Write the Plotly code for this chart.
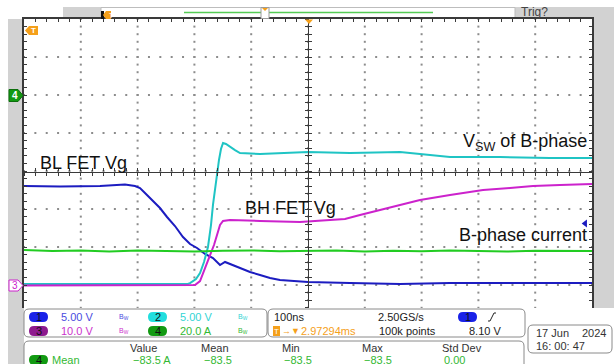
import numpy as np
import plotly.graph_objects as go

# ---------------- data ----------------
# time in ns (100 ns/div, trigger at centre)
T_CH1 = [-500, -436.6, -366.2, -322.2, -304.6, -295.8, -287.0, -278.2, -260.6, -248.2,
         -234.2, -220.1, -207.7, -195.4, -181.3, -167.3, -154.9, -146.1, -137.3, -119.7,
         -102.1, -84.5, -66.9, -49.3, -31.7, 0, 73.9, 162, 250, 338, 426, 500]
V_CH1 = [13.03, 12.96, 13.03, 13.22, 13.03, 12.76, 12.11, 11.45, 10.13, 8.95,
         7.76, 6.32, 5.39, 4.87, 4.08, 3.55, 2.63, 3.03, 2.76, 2.24,
         1.71, 1.32, 0.92, 0.66, 0.53, 0.39, 0.26, 0.13, 0.26, 0.26, 0.26, 0.26]

T_CH2 = [-500, -400, -300, -211.3, -207.7, -197.2, -190.1, -183.1, -176.1, -170.8,
         -167.3, -162.0, -156.7, -153.2, -149.6, -144.4, -137.3, -128.5, -119.7, -84.5,
         0, 73.9, 162, 214.8, 250, 338, 426, 500]
V_CH2 = [0.13, 0.13, 0.13, 0.13, 0.26, 0.79, 1.58, 3.03, 5.0, 7.89,
         10.53, 13.82, 16.45, 17.89, 18.68, 18.55, 18.16, 17.76, 17.37, 17.24,
         17.5, 17.37, 17.5, 17.1, 16.84, 16.84, 16.71, 16.71]

T_CH3 = [-500, -400, -300, -198.9, -190.1, -181.3, -172.5, -165.5, -160.2, -154.9,
         -149.6, -137.3, -84.5, -14.1, 38.7, 65.1, 91.5, 126.8, 162.0, 197.2,
         250, 308.1, 355.6, 396.1, 443.7, 500]
V_CH3 = [-0.13, -0.13, -0.13, 0, 1.05, 4.47, 7.63, 10.53, 13.16, 15.79,
         16.84, 17.11, 16.84, 16.58, 17.11, 17.37, 18.42, 19.74, 21.05, 22.37,
         23.68, 25.0, 25.53, 26.05, 26.32, 26.58]

T_CH4 = [-500, -450, -400, -350, -300, -250, -200, -150, -100, -50, 0,
         50, 100, 150, 200, 250, 300, 350, 400, 450, 500]
I_CH4 = [-81.6, -82.1, -81.8, -82.3, -81.9, -82.1, -82.4, -82.0, -81.8, -82.2, -82.1,
         -81.9, -82.3, -82.0, -82.2, -81.9, -82.1, -82.4, -82.0, -82.2, -82.1]

TRIG_LEVEL = 8.10
CH_SCALE = [5, 5, 10, 20]          # units per division
CH_GROUND_DIV = [-3, -3, -3, 2]    # ground marker position in divisions
CH_LABELS = ["5.00 V", "5.00 V", "10.0 V", "20.0 A"]
TIME_RANGE = [-500, 500]
TIME_DIV = 100
DIV_RANGE = [-3.605, 4.0]

LABELS = ["BL FET Vg", "BH FET Vg", "V<sub>SW</sub> of B-phase", "B-phase current"]
MEAS_HEAD = ["Value", "Mean", "Min", "Max", "Std Dev"]
MEAS_VALS = ["\u221283.5 A", "\u221283.5", "\u221283.5", "\u221283.5", "0.00"]

# ---------------- styling ----------------
C1, C2, C3, C4 = "#1c1cc0", "#1fc4c4", "#cc22cc", "#22cc22"
P1, P2, P3, P4 = "#1a22e8", "#22dede", "#8e1a8e", "#129a12"
T1, T2, T3, T4 = "#4b4be0", "#33d4d4", "#cc33cc", "#33b833"
ORANGE = "#f5a01a"
FRAME = "#d2d2d2"
LINE = "#3a3a3a"
GRID = "#8c8c8c"
FONT = "Liberation Sans, Arial, sans-serif"

W, H = 614, 364
L, R, TOP, BOT = 24, 592, 19, 308


def px(x):
    return (x - L) / (R - L)


def py(y):
    return (BOT - y) / (BOT - TOP)


def ch_range(ch):
    return [(d - CH_GROUND_DIV[ch]) * CH_SCALE[ch] for d in DIV_RANGE]


def rrect(x0, y0, x1, y1, r):
    return (f"M {px(x0 + r)},{py(y0)} L {px(x1 - r)},{py(y0)} "
            f"Q {px(x1)},{py(y0)} {px(x1)},{py(y0 + r)} L {px(x1)},{py(y1 - r)} "
            f"Q {px(x1)},{py(y1)} {px(x1 - r)},{py(y1)} L {px(x0 + r)},{py(y1)} "
            f"Q {px(x0)},{py(y1)} {px(x0)},{py(y1 - r)} L {px(x0)},{py(y0 + r)} "
            f"Q {px(x0)},{py(y0)} {px(x0 + r)},{py(y0)} Z")


def poly(points):
    return "M " + " L ".join(f"{px(a)},{py(b)}" for a, b in points) + " Z"


shapes = []
annotations = []


def rect(x0, y0, x1, y1, fill, line=None, layer="above", lw=1):
    shapes.append(dict(type="rect", xref="paper", yref="paper",
                       x0=px(x0), x1=px(x1), y0=py(y1), y1=py(y0),
                       fillcolor=fill, line=dict(color=line or fill, width=lw if line else 0),
                       layer=layer))


def path(p, fill, line=None, layer="above", lw=1):
    shapes.append(dict(type="path", xref="paper", yref="paper", path=p,
                       fillcolor=fill, line=dict(color=line or fill, width=lw if line else 0),
                       layer=layer))


def text(x, y, s, color="#222", size=11, xanchor="left"):
    annotations.append(dict(xref="paper", yref="paper", x=px(x), y=py(y), text=s,
                            showarrow=False, xanchor=xanchor, yanchor="middle",
                            font=dict(family=FONT, size=size, color=color),
                            borderpad=0))


# ---- frame ----
rect(63, 7, W, TOP, FRAME, layer="below")
rect(8, TOP, L, H, FRAME, layer="below")
rect(R, 7, W, BOT, FRAME, layer="below")
# top record bar
rect(101, 7.5, 515, 18.5, "white", line="#bdbdbd", layer="below")
shapes.append(dict(type="line", xref="paper", yref="paper", x0=px(184), x1=px(433),
                   y0=py(12.5), y1=py(12.5), line=dict(color="#55cc55", width=1.5)))
rect(261, 7.5, 269, 18.5, "white", line="#9a9a9a")
path(poly([(262, 8), (268, 8), (265, 11)]), ORANGE)
rect(101, 11, 104, 19, "#111")
path(poly([(103, 15), (106, 11), (111, 11), (111, 19), (106, 19)]), ORANGE)
text(107.5, 15, "T", "white", 7)
text(520, 12.5, "Trig?", "#444", 12)

# trigger position marker at top of graticule
path(poly([(305, 19.5), (313, 19.5), (309, 24)]), ORANGE)
# orange T marker inside
path(poly([(25, 30.5), (29, 26), (38, 26), (38, 35), (29, 35)]), ORANGE)
text(33, 30.5, "<b>T</b>", "white", 8, "center")

# channel ground markers
path(poly([(9, 89.5), (18, 89.5), (23, 95.5), (18, 101.5), (9, 101.5)]), P4, line="#0d6e0d")
text(14.5, 95.5, "<b>4</b>", "white", 10, "center")
path(poly([(9, 280), (18, 280), (23, 285.5), (18, 291), (9, 291)]), "white", line=C3)
text(14.5, 285.5, "3", C3, 10, "center")

# ---- bottom panels ----
path(rrect(24, 309, 267, 337, 5), "white", line="#8a8a8a")
path(rrect(268, 309, 525, 337, 5), "white", line="#8a8a8a")
path(rrect(528, 325, 612, 353, 5), "white", line="#8a8a8a")
path(rrect(24, 341, 524, 372, 5), "white", line="#8a8a8a")

pill_fill = [P1, P2, P3, P4]
txt_col = [T1, T2, T3, T4]
pos = [(29, 317), (148, 317), (29, 331), (148, 331)]
for ch in range(4):
    x0, yc = pos[ch]
    path(rrect(x0, yc - 5, x0 + 19, yc + 5, 5), pill_fill[ch])
    text(x0 + 9.5, yc, str(ch + 1), "#111", 11, "center")
    text(x0 + 31, yc, CH_LABELS[ch], txt_col[ch], 11)
    text(x0 + 89, yc, "B<sub>W</sub>", txt_col[ch], 7)

text(273, 317, "100ns", "#222", 11)
rect(273, 326, 280, 336, ORANGE)
text(276.5, 331, "T", "white", 8, "center")
text(281, 331, "\u2192\u25BC", ORANGE, 9)
text(300, 331, "2.97294ms", ORANGE, 11)
text(377, 317, "2.50GS/s", "#222", 11)
text(378, 331, "100k points", "#222", 11)
path(rrect(458, 312, 477, 322, 5), P1)
text(467.5, 317, "1", "#111", 11, "center")
shapes.append(dict(type="path", xref="paper", yref="paper",
                   path=f"M {px(488)},{py(321)} L {px(490)},{py(321)} L {px(494)},{py(313)} L {px(496)},{py(313)}",
                   line=dict(color="#222", width=1)))
text(502, 331, f"{TRIG_LEVEL:.2f} V", "#222", 11, "right")

text(535, 333, "17 Jun", "#333", 11)
text(607, 333, "2024", "#333", 11, "right")
text(535, 346, "16: 00: 47", "#333", 11)

head_x = [143, 215, 291, 372, 462]
for hx, h in zip(head_x, MEAS_HEAD):
    text(hx, 348, h, "#333", 11, "center")
path(rrect(29, 355, 48, 365, 5), P4)
text(38.5, 360, "4", "#111", 11, "center")
text(51, 360, "Mean", T4, 11)
val_x = [132, 203, 283, 363, 443]
for vx, v in zip(val_x, MEAS_VALS):
    text(vx, 360, v, T4, 11)

# ---- plot labels ----
lab_pos = [(-475, 0.21, "left"), (-114.4, -0.97, "left"), (494, 0.76, "right"), (494, -1.684, "right")]
for (lx, ly, xa), s in zip(lab_pos, LABELS):
    annotations.append(dict(x=lx, y=ly, xref="x", yref="y", text=s, showarrow=False,
                            xanchor=xa, yanchor="middle",
                            font=dict(family=FONT, size=18, color="#111")))

# ---------------- dotted graticule (derived from the axis divisions) ----------------
col_t = np.arange(TIME_RANGE[0] + TIME_DIV, TIME_RANGE[1], TIME_DIV)
row_d = np.arange(np.ceil(DIV_RANGE[0]), DIV_RANGE[1], 1.0)
sub_d = np.arange(np.ceil(DIV_RANGE[0] / 0.2) * 0.2, DIV_RANGE[1] + 1e-9, 0.2)
sub_t = np.arange(TIME_RANGE[0], TIME_RANGE[1] + 1e-9, TIME_DIV / 5)
grid_x = np.concatenate([np.repeat(col_t, len(sub_d)), np.tile(sub_t, len(row_d))])
grid_y = np.concatenate([np.tile(sub_d, len(col_t)), np.repeat(row_d, len(sub_t))])

# ---------------- traces ----------------
fig = go.Figure()
fig.add_trace(go.Scatter(x=grid_x, y=grid_y, xaxis="x", yaxis="y", mode="markers",
                         marker=dict(symbol="square", size=2, color=GRID, line=dict(width=0)),
                         showlegend=False, hoverinfo="skip"))
# make sure every overlay subplot exists
for xa, ya in [("x2", "y"), ("x3", "y"), ("x", "y5"), ("x", "y6")]:
    fig.add_trace(go.Scatter(x=[None], y=[None], xaxis=xa, yaxis=ya, mode="markers",
                             showlegend=False, hoverinfo="skip"))

LW = 2.0
fig.add_trace(go.Scatter(x=T_CH4, y=I_CH4, xaxis="x", yaxis="y4", mode="lines",
                         line=dict(color=C4, width=LW), showlegend=False))
fig.add_trace(go.Scatter(x=T_CH1, y=V_CH1, xaxis="x", yaxis="y2", mode="lines",
                         line=dict(color=C1, width=LW), showlegend=False))
fig.add_trace(go.Scatter(x=T_CH2, y=V_CH2, xaxis="x", yaxis="y2", mode="lines",
                         line=dict(color=C2, width=LW), showlegend=False))
fig.add_trace(go.Scatter(x=T_CH3, y=V_CH3, xaxis="x", yaxis="y3", mode="lines",
                         line=dict(color=C3, width=LW), showlegend=False))
fig.add_trace(go.Scatter(x=[TIME_RANGE[1] - 0.012 * (TIME_RANGE[1] - TIME_RANGE[0])],
                         y=[TRIG_LEVEL], xaxis="x", yaxis="y2", mode="markers",
                         marker=dict(symbol="triangle-left", size=7, color=C1),
                         showlegend=False, cliponaxis=False))

tick_common = dict(showticklabels=False, zeroline=False, fixedrange=True)
center_x = dict(range=TIME_RANGE, overlaying="x", anchor="free", position=py(171.5),
                showline=True, linecolor=LINE, linewidth=1.2, dtick=20, tick0=0,
                ticklen=3, tickcolor=LINE, showgrid=False, **tick_common)
center_y = dict(range=DIV_RANGE, overlaying="y", anchor="free", position=0.5,
                showline=True, linecolor=LINE, linewidth=1.2, dtick=0.2, tick0=0,
                ticklen=3, tickcolor=LINE, showgrid=False, **tick_common)

fig.update_layout(
    width=W, height=H,
    margin=dict(l=L, r=W - R, t=TOP, b=H - BOT, pad=0),
    paper_bgcolor="white", plot_bgcolor="white",
    showlegend=False,
    xaxis=dict(range=TIME_RANGE, side="top", showline=True, linecolor=LINE, linewidth=1.5,
               ticks="inside", ticklen=3, tickcolor=LINE, dtick=TIME_DIV, tick0=0,
               minor=dict(dtick=TIME_DIV / 5, ticks="inside", ticklen=3, tickcolor=LINE, showgrid=False),
               showgrid=False, **tick_common),
    yaxis=dict(range=DIV_RANGE, showline=True, linecolor=LINE, linewidth=1.5, mirror="ticks",
               ticks="inside", ticklen=3, tickcolor=LINE, dtick=1, tick0=0,
               minor=dict(dtick=0.2, ticks="inside", ticklen=3, tickcolor=LINE, showgrid=False),
               showgrid=False, **tick_common),
    yaxis2=dict(range=ch_range(0), overlaying="y", visible=False, fixedrange=True),
    yaxis3=dict(range=ch_range(2), overlaying="y", visible=False, fixedrange=True),
    yaxis4=dict(range=ch_range(3), overlaying="y", visible=False, fixedrange=True),
    xaxis2=dict(ticks="outside", **center_x),
    xaxis3=dict(ticks="inside", **center_x),
    yaxis5=dict(ticks="outside", **center_y),
    yaxis6=dict(ticks="inside", **center_y),
    shapes=shapes,
    annotations=annotations,
    font=dict(family=FONT),
)

fig.write_html("out.html", config={"displayModeBar": False})
